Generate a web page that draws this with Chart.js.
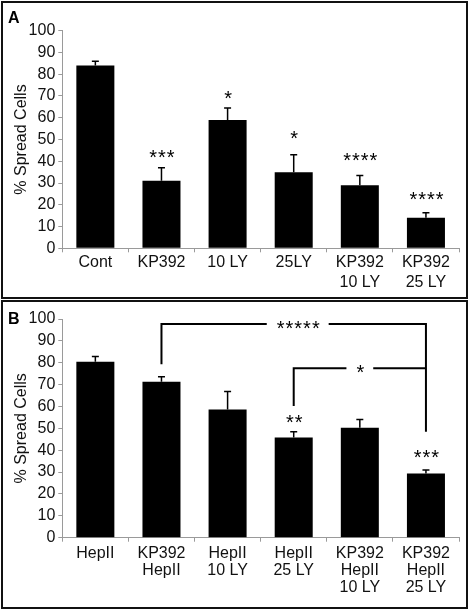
<!DOCTYPE html>
<html>
<head>
<meta charset="utf-8">
<script src="https://cdn.jsdelivr.net/npm/chart.js@4"></script>
<style>
  body { margin: 0; background: #fff; }
  .panel { position: absolute; left: 0; width: 470px; }
  .panel canvas { position: absolute; left: 0; top: 0; }
  .frame { position: absolute; left: 1px; width: 463px; border: 2px solid #111; pointer-events: none; }
</style>
</head>
<body>
<div class="panel" style="top:0;height:300px"><canvas id="chartA" width="470" height="300"></canvas></div>
<div class="panel" style="top:300px;height:310px"><canvas id="chartB" width="470" height="310"></canvas></div>
<div class="frame" style="top:1px;height:294px"></div>
<div class="frame" style="top:300px;height:305px"></div>
<script>
// Panel A: % spread cells por tratamiento
const catsA = ["Cont", "KP392", "10 LY", "25LY", ["KP392", "10 LY"], ["KP392", "25 LY"]];
const spreadA = [84, 31, 59, 35, 29, 14];
const errA = [2, 6, 5.5, 8, 4.5, 2.3];
const starsA = ["", "***", "*", "*", "****", "****"];
const starLevelA = [null, 43.8, 70.9, 52.5, 42, 24.5];

// Panel B: con HepII
const catsB = ["HepII", ["KP392", "HepII"], ["HepII", "10 LY"], ["HepII", "25 LY"],
  ["KP392", "HepII", "10 LY"], ["KP392", "HepII", "25 LY"]];
const spreadB = [80.5, 71.3, 58.6, 45.8, 50.3, 29.3];
const errB = [2.3, 2.3, 8.2, 2.6, 3.8, 1.7];
const starsB = ["", "", "", "**", "", "***"];
const starLevelB = [null, null, null, 54.6, null, 38.3];
// comparaciones entre grupos (niveles en % del eje)
const bracketsB = [
  { from: 1, to: 5, level: 97.7, fromEnd: 79.3, toEnd: 48.5, label: "*****" },
  { from: 3, to: 5, level: 77.5, fromEnd: 60.2, toEnd: 77.5, label: "*" }
];

const FONT = "'Liberation Sans', Arial, sans-serif";
const axisGray = "#9a9a9a";

const annotate = {
  id: "annotate",
  afterDatasetsDraw(chart, args, o) {
    const { ctx, scales: { x, y } } = chart;
    ctx.save();
    // barras de error (solo hacia arriba)
    ctx.strokeStyle = "#000";
    ctx.lineWidth = 1.5;
    o.values.forEach((v, i) => {
      const cx = x.getPixelForValue(i);
      const y0 = y.getPixelForValue(v), y1 = y.getPixelForValue(v + o.err[i]);
      ctx.beginPath();
      ctx.moveTo(cx, y0); ctx.lineTo(cx, y1);
      ctx.moveTo(cx - 3.5, y1); ctx.lineTo(cx + 3.5, y1);
      ctx.stroke();
    });
    // asteriscos
    ctx.fillStyle = "#000";
    ctx.font = "20px " + FONT;
    ctx.letterSpacing = "1px";
    ctx.textAlign = "center";
    ctx.textBaseline = "middle";
    o.stars.forEach((s, i) => {
      if (!s) return;
      ctx.fillText(s, x.getPixelForValue(i) + 1, y.getPixelForValue(o.starLevel[i]) + 5);
    });
    // corchetes
    ctx.lineWidth = 2;
    (o.brackets || []).forEach(b => {
      const xa = x.getPixelForValue(b.from), xb = x.getPixelForValue(b.to);
      const yl = y.getPixelForValue(b.level);
      const w = ctx.measureText(b.label).width;
      const mid = (xa + xb) / 2 + (b.from === 1 ? 4 : 0);
      const gap = w / 2 + 9;
      ctx.beginPath();
      ctx.moveTo(xa, y.getPixelForValue(b.fromEnd));
      ctx.lineTo(xa, yl); ctx.lineTo(mid - gap, yl);
      ctx.moveTo(mid + gap, yl); ctx.lineTo(xb, yl);
      ctx.lineTo(xb, y.getPixelForValue(b.toEnd));
      ctx.stroke();
      ctx.fillText(b.label, mid + 1, yl + 5);
    });
    ctx.restore();
  }
};

const panelLetter = {
  id: "panelLetter",
  afterDraw(chart, args, o) {
    const { ctx } = chart;
    ctx.save();
    ctx.font = "bold 16px " + FONT;
    ctx.fillStyle = "#000";
    ctx.textBaseline = "alphabetic";
    ctx.fillText(o.text, o.x, o.y);
    ctx.restore();
  }
};

function makeChart(id, cats, values, opts) {
  const canvas = document.getElementById(id);
  const H = canvas.height;
  return new Chart(canvas, {
    type: "bar",
    data: {
      labels: cats,
      datasets: [{ data: values, backgroundColor: "#000", borderWidth: 0,
        categoryPercentage: 1, barPercentage: 0.575 }]
    },
    options: {
      responsive: false, animation: false, devicePixelRatio: 1,
      layout: { padding: { top: opts.top, right: 11, left: 0, bottom: 0 } },
      plugins: {
        legend: { display: false }, tooltip: { enabled: false },
        annotate: { values, err: opts.err, stars: opts.stars, starLevel: opts.starLevel, brackets: opts.brackets },
        panelLetter: { text: opts.letter, x: 8, y: opts.letterY }
      },
      scales: {
        x: {
          grid: { drawOnChartArea: false, color: axisGray, tickLength: 4, offset: true },
          border: { color: axisGray, width: 1 },
          ticks: { color: "#111", font: { family: FONT, size: 16, lineHeight: opts.lh }, padding: opts.xpad, maxRotation: 0, autoSkip: false },
          afterFit: (s) => { s.height = H - opts.bottom; }
        },
        y: {
          min: 0, max: 100,
          grid: { drawOnChartArea: false, color: axisGray, tickLength: 4 },
          border: { color: axisGray, width: 1 },
          ticks: { stepSize: 10, autoSkip: false, color: "#111", font: { family: FONT, size: 16 }, padding: 3 },
          title: { display: true, text: "% Spread Cells", color: "#111", font: { family: FONT, size: 16 }, padding: { top: 12, bottom: 0 } },
          afterFit: (s) => { s.width = 62.3; }
        }
      }
    },
    plugins: [annotate, panelLetter]
  });
}

makeChart("chartA", catsA, spreadA, {
  top: 30.7, bottom: 248.3, err: errA, stars: starsA, starLevel: starLevelA,
  letter: "A", letterY: 23, lh: 1.25, xpad: 0
});
makeChart("chartB", catsB, spreadB, {
  top: 19, bottom: 237.7, err: errB, stars: starsB, starLevel: starLevelB, brackets: bracketsB,
  letter: "B", letterY: 24, lh: 1.07, xpad: 3
});
</script>
</body>
</html>
